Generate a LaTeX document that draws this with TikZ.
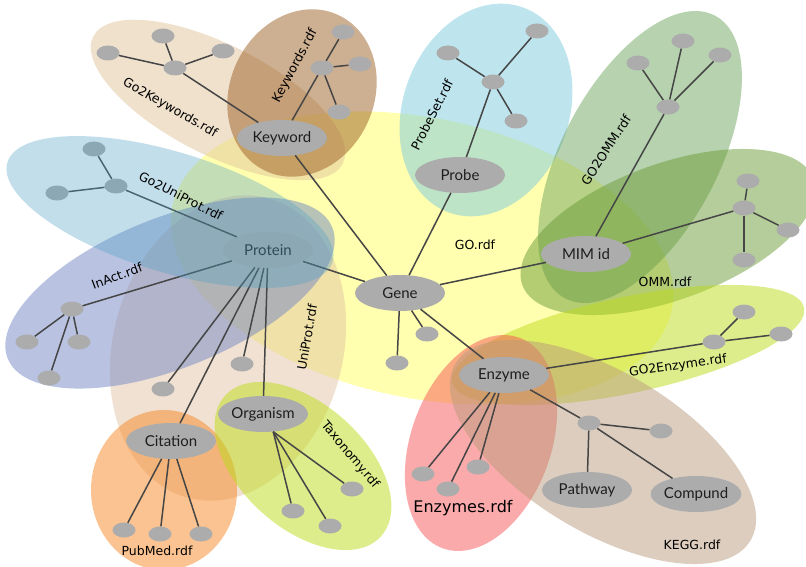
\documentclass[tikz,border=0pt]{standalone}
\usepackage{fontspec}
\setmainfont{Lato}
\newfontfamily\lblfont{DejaVu Sans}
\usetikzlibrary{shapes.geometric}
\definecolor{goY}{RGB}{255,255,95}
\definecolor{gkC}{RGB}{225,195,155}
\definecolor{kdC}{RGB}{155,95,35}
\definecolor{psC}{RGB}{125,201,221}
\definecolor{omC}{RGB}{111,165,95}
\definecolor{mmC}{RGB}{105,155,55}
\definecolor{ezC}{RGB}{189,219,25}
\definecolor{enC}{RGB}{245,85,85}
\definecolor{kgC}{RGB}{185,155,125}
\definecolor{upC}{RGB}{225,195,165}
\definecolor{guC}{RGB}{84,161,198}
\definecolor{iaC}{RGB}{115,135,195}
\definecolor{pmC}{RGB}{245,135,35}
\definecolor{txC}{RGB}{189,219,25}
\definecolor{nodegray}{RGB}{172,172,172}
\definecolor{linkgray}{RGB}{70,70,70}
\definecolor{textdark}{RGB}{30,30,30}
\begin{document}
\begin{tikzpicture}[x=1pt,y=-1pt,
  region/.style={fill opacity=0.5},
  overregion/.style={fill opacity=0.35},
  big/.style={ellipse, fill=nodegray, minimum width=90pt, minimum height=36pt, inner sep=0pt, font=\fontsize{15}{18}\selectfont, text=textdark},
  small/.style={ellipse, fill=nodegray, minimum width=23pt, minimum height=15pt, inner sep=0pt},
  link/.style={draw=linkgray, line width=1.5pt},
  lbl/.style={font=\lblfont\fontsize{12.5}{15}\selectfont, text=black}]
\useasboundingbox (0,0) rectangle (806,567);
\clip (0,0) rectangle (806,567);
% regions
\fill[goY,region,rotate around={-11.7:(422,258)}] (422,258) ellipse [x radius=255, y radius=140];
\fill[gkC,region,rotate around={-27:(218,100)}] (218,100) ellipse [x radius=140, y radius=55];
\fill[kdC,region,rotate around={65:(302,93)}] (302,93) ellipse [x radius=86, y radius=72];
\fill[psC,region,rotate around={70:(486,110)}] (486,110) ellipse [x radius=109, y radius=83];
\fill[omC,region,rotate around={62:(640,157)}] (640,157) ellipse [x radius=160, y radius=78];
\fill[mmC,region,rotate around={20:(668,232)}] (668,232) ellipse [x radius=155, y radius=68];
\fill[ezC,region,rotate around={12:(628,345)}] (628,345) ellipse [x radius=180, y radius=48];
\fill[enC,region,rotate around={70:(481,443)}] (481,443) ellipse [x radius=112, y radius=70];
\fill[kgC,region,rotate around={-31:(603,452)}] (603,452) ellipse [x radius=172, y radius=80];
\fill[upC,region,rotate around={75:(228,348)}] (228,348) ellipse [x radius=155, y radius=115];
\fill[iaC,region,rotate around={22:(170,293)}] (170,293) ellipse [x radius=175, y radius=75];
\fill[pmC,region] (164,490) ellipse [x radius=73, y radius=80];
\fill[txC,region,rotate around={-42:(303,466)}] (303,466) ellipse [x radius=105, y radius=62];
% main nodes
\node[big] (kw) at (282,138) {Keyword};
\node[big] (probe) at (460,175) {Probe};
\node[big] (mim) at (586,254) {MIM id};
\node[big] (prot) at (268,250) {Protein};
\node[big] (gene) at (400,293) {Gene};
\node[big] (enz) at (504,375) {Enzyme};
\node[big] (org) at (263,414) {Organism};
\node[big] (cit) at (171,441) {Citation};
\node[big] (path) at (587,490) {Pathway};
\node[big] (comp) at (696,494) {Compund};
% small nodes
\node[small] (gk0) at (175,68) {};
\node[small] (gk1) at (163,36) {};
\node[small] (gk2) at (108,53) {};
\node[small] (gk3) at (223,51) {};
\node[small] (kd0) at (322,68) {};
\node[small] (kd1) at (343,32) {};
\node[small] (kd2) at (360,64) {};
\node[small] (kd3) at (339,112) {};
\node[small] (gu0) at (116,186) {};
\node[small] (gu1) at (94,149) {};
\node[small] (gu2) at (57,193) {};
\node[small] (ps0) at (493,82) {};
\node[small] (ps1) at (448,53) {};
\node[small] (ps2) at (537,31) {};
\node[small] (ps3) at (516,121) {};
\node[small] (om0) at (668,107) {};
\node[small] (om1) at (638,63) {};
\node[small] (om2) at (683,41) {};
\node[small] (om3) at (720,55) {};
\node[small] (mm0) at (744,208) {};
\node[small] (mm1) at (748,181) {};
\node[small] (mm2) at (788,230) {};
\node[small] (mm3) at (744,260) {};
\node[small] (ia0) at (72,309) {};
\node[small] (ia1) at (27,342) {};
\node[small] (ia2) at (79,342) {};
\node[small] (ia3) at (49,378) {};
\node[small] (pr1) at (163,389) {};
\node[small] (pr2) at (242,364) {};
\node[small] (ci1) at (124,530) {};
\node[small] (ci2) at (160,534) {};
\node[small] (ci3) at (201,534) {};
\node[small] (or1) at (293,511) {};
\node[small] (or2) at (330,526) {};
\node[small] (or3) at (352,489) {};
\node[small] (ge1) at (397,363) {};
\node[small] (ge2) at (427,334) {};
\node[small] (en1) at (423,474) {};
\node[small] (en2) at (448,489) {};
\node[small] (en3) at (478,467) {};
\node[small] (ez0) at (714,342) {};
\node[small] (ez1) at (744,312) {};
\node[small] (ez2) at (781,334) {};
\node[small] (kg0) at (589,423) {};
\node[small] (kg1) at (661,431) {};
% links
\draw[link] (gk0) -- (gk1); \draw[link] (gk0) -- (gk2); \draw[link] (gk0) -- (gk3); \draw[link] (gk0) -- (kw);
\draw[link] (kd0) -- (kd1); \draw[link] (kd0) -- (kd2); \draw[link] (kd0) -- (kd3); \draw[link] (kd0) -- (kw);
\draw[link] (kw) -- (gene);
\draw[link] (gu0) -- (gu1); \draw[link] (gu0) -- (gu2); \draw[link] (gu0) -- (prot);
\draw[link] (ps0) -- (ps1); \draw[link] (ps0) -- (ps2); \draw[link] (ps0) -- (ps3); \draw[link] (ps0) -- (probe);
\draw[link] (probe) -- (gene);
\draw[link] (om0) -- (om1); \draw[link] (om0) -- (om2); \draw[link] (om0) -- (om3); \draw[link] (om0) -- (mim);
\draw[link] (mm0) -- (mm1); \draw[link] (mm0) -- (mm2); \draw[link] (mm0) -- (mm3); \draw[link] (mm0) -- (mim);
\draw[link] (mim) -- (gene);
\draw[link] (ia0) -- (ia1); \draw[link] (ia0) -- (ia2); \draw[link] (ia0) -- (ia3); \draw[link] (ia0) -- (prot);
\draw[link] (prot) -- (pr1); \draw[link] (prot) -- (pr2); \draw[link] (prot) -- (cit); \draw[link] (prot) -- (org); \draw[link] (prot) -- (gene);
\draw[link] (cit) -- (ci1); \draw[link] (cit) -- (ci2); \draw[link] (cit) -- (ci3);
\draw[link] (org.-60) -- (or1); \draw[link] (org.-60) -- (or2); \draw[link] (org.-60) -- (or3);
\draw[link] (gene) -- (ge1); \draw[link] (gene) -- (ge2); \draw[link] (gene) -- (enz);
\draw[link] (enz) -- (en1); \draw[link] (enz) -- (en2); \draw[link] (enz) -- (en3);
\draw[link] (enz) -- (ez0); \draw[link] (ez0) -- (ez1); \draw[link] (ez0) -- (ez2);
\draw[link] (enz) -- (kg0); \draw[link] (kg0) -- (kg1); \draw[link] (kg0) -- (path); \draw[link] (kg0) -- (comp);
% region drawn over its nodes
\fill[guC,overregion,rotate around={-17:(170,212)}] (170,212) ellipse [x radius=170, y radius=60];
% labels
\node[lbl,rotate=-30] (lgk) at (170,108) {Go2Keywords.rdf};
\node[lbl,rotate=62] (lkd) at (295,66) {Keywords.rdf};
\node[lbl,rotate=-27] (lgu) at (181,196) {Go2UniProt.rdf};
\node[lbl,rotate=63] (lps) at (432,115) {ProbeSet.rdf};
\node[lbl,rotate=57] (lom) at (606,150) {GO2OMM.rdf};
\node[lbl] (lgo) at (475,245) {GO.rdf};
\node[lbl] (lmm) at (665,282) {OMM.rdf};
\node[lbl,rotate=20] (lia) at (117,276) {InAct.rdf};
\node[lbl,rotate=80] (lup) at (307,337) {UniProt.rdf};
\node[lbl,rotate=-50] (ltx) at (350,455) {Taxonomy.rdf};
\node[lbl] (lpm) at (157,551) {PubMed.rdf};
\node[lbl,rotate=8] (lez) at (678,366) {GO2Enzyme.rdf};
\node[lbl,font=\lblfont\fontsize{16}{19}\selectfont] (len) at (463,508) {Enzymes.rdf};
\node[lbl] (lkg) at (692,545) {KEGG.rdf};
\end{tikzpicture}
\end{document}
